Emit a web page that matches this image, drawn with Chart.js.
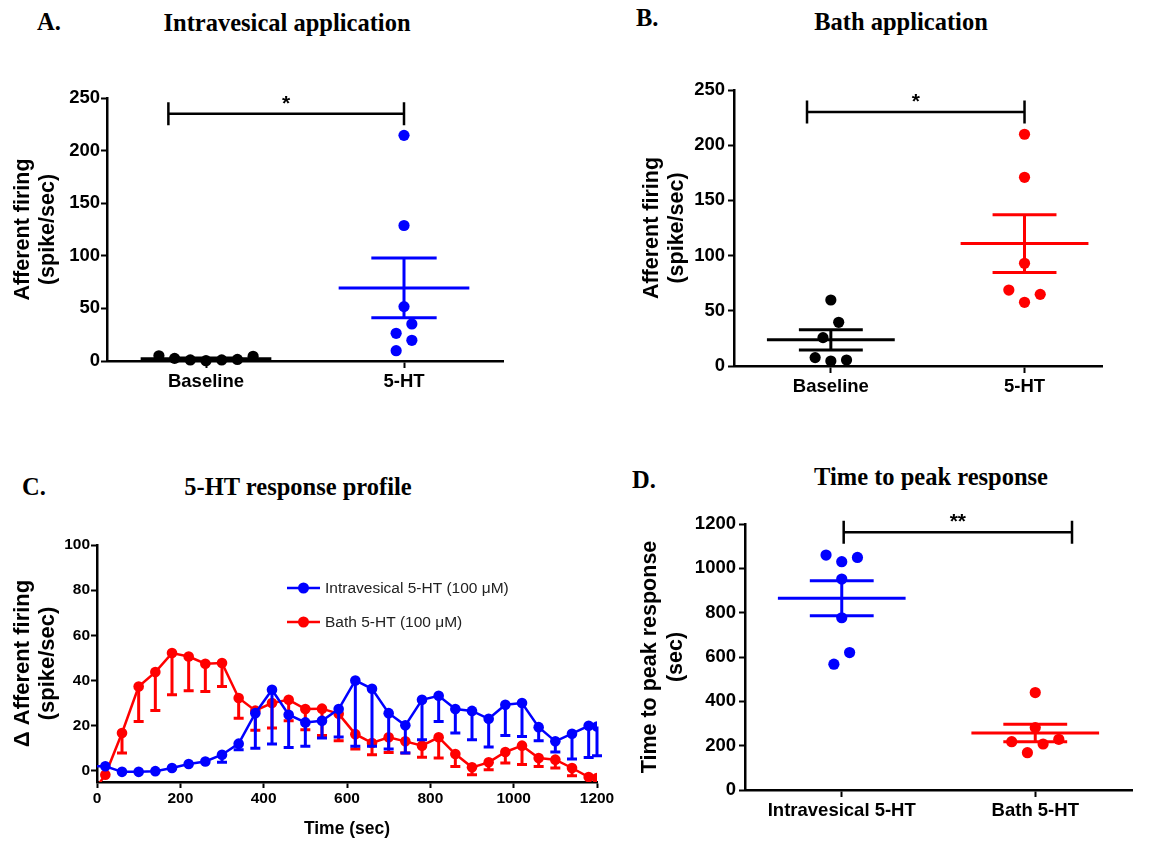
<!DOCTYPE html>
<html>
<head>
<meta charset="utf-8">
<script src="https://cdn.jsdelivr.net/npm/chart.js@4.4.3/dist/chart.umd.min.js"></script>
<style>
  html, body { margin: 0; padding: 0; background: #fff; }
  body { width: 1161px; height: 841px; position: relative; overflow: hidden; }
  canvas { position: absolute; }
  .t { position: absolute; font-family: 'Liberation Serif', 'Times New Roman', serif; font-weight: bold;
       font-size: 24.5px; line-height: 1; white-space: nowrap; color: #000; }
  .c { transform: translateX(-50%); }
</style>
</head>
<body>
<div class="t" style="left:37px;top:10px">A.</div>
<div class="t c" style="left:287px;top:11px">Intravesical application</div>
<div class="t" style="left:636px;top:6px">B.</div>
<div class="t c" style="left:901px;top:10px">Bath application</div>
<div class="t" style="left:22px;top:475px">C.</div>
<div class="t c" style="left:298px;top:475px">5-HT response profile</div>
<div class="t" style="left:632px;top:468px">D.</div>
<div class="t c" style="left:931px;top:465px">Time to peak response</div>

<canvas id="chartA" width="560" height="380" style="left:0;top:40px"></canvas>
<canvas id="chartB" width="561" height="380" style="left:600px;top:40px"></canvas>
<canvas id="chartC" width="620" height="321" style="left:0;top:520px"></canvas>
<canvas id="chartD" width="541" height="361" style="left:620px;top:480px"></canvas>

<script>
// ---- data ----
// A. intravesical application (spike/sec)
const groupsA = ['Baseline', '5-HT'];
const baselineA = [5, 2.5, 1, 0.3, 1, 1.5, 4.5];
const intravesA = [214.5, 128.8, 51.7, 35.2, 26.3, 19.7, 9.8];
const ticksA = [0, 50, 100, 150, 200, 250];

// B. bath application (spike/sec)
const groupsB = ['Baseline', '5-HT'];
const baselineB = [59.8, 39.6, 25.7, 7.6, 4.5, 5.4];
const bathB = [209.9, 170.9, 93, 68.8, 64.9, 57.7];
const ticksB = [0, 50, 100, 150, 200, 250];

// C. response profile, mean and SEM (error bars drawn downward)
const timeC = [0, 20, 60, 100, 140, 180, 220, 260, 300, 340, 380, 420, 460, 500, 540, 580,
  620, 660, 700, 740, 780, 820, 860, 900, 940, 980, 1020, 1060, 1100, 1140, 1180, 1200];
const intravesMeanC = [2, 2, -0.5, -0.5, -0.2, 1.2, 3, 4.1, 7.1, 12, 25.5, 35.9, 24.8, 21.4, 22.1, 27.3,
  40, 36.3, 25.5, 20.1, 31.4, 33.2, 27.3, 26.5, 23, 29.2, 30, 19.3, 13, 16.4, 19.9, 19.6];
const intravesSemC = [0, 0, 0, 0, 0, 0, 0, 0, 3.4, 2.7, 15.5, 24.1, 14.5, 10.6, 7.6, 12.4,
  29.2, 25.5, 15.9, 12.3, 17.7, 11.4, 10.6, 12.8, 12.5, 13.6, 14.8, 6, 4.7, 11.2, 14, 13];
const bathMeanC = [-7, -1.8, 16.7, 37.3, 43.7, 52.1, 50.6, 47.4, 47.7, 32.2, 26.6, 30, 31.4, 27.3, 27.5, 25.2,
  16.2, 12.3, 14.8, 13, 11.1, 14.8, 7.4, 1.5, 3.7, 8.3, 11.1, 5.6, 4.9, 1.2, -2.8, -3.2];
const bathSemC = [0, 0, 8.9, 15.5, 17, 18.4, 15.2, 12.3, 10.4, 9, 8.7, 11.1, 9.3, 9.1, 11.9, 11.9,
  6.6, 5.2, 6.7, 5.2, 5.1, 9.2, 5.5, 3.3, 3.3, 4.9, 8.4, 3.7, 3.7, 3.4, 0, 0];
const seriesC = ['Intravesical 5-HT (100 \u03bcM)', 'Bath 5-HT (100 \u03bcM)'];
const xTicksC = [0, 200, 400, 600, 800, 1000, 1200];
const yTicksC = [0, 20, 40, 60, 80, 100];

// D. time to peak response (sec)
const groupsD = ['Intravesical 5-HT', 'Bath 5-HT'];
const intravesD = [1049, 1030, 1060, 951.5, 777, 620, 567.6];
const bathD = [439.6, 281.5, 218, 207.6, 228.8, 168.4];
const ticksD = [0, 200, 400, 600, 800, 1000, 1200];

const BLUE = '#0000ff';
const RED = '#ff0000';
const BLACK = '#000000';
const SANS = "'Liberation Sans', Arial, sans-serif";

Chart.defaults.color = BLACK;
Chart.defaults.font.family = SANS;

// ---- plugins ----
// column scatter: points close in value share a row and are spread sideways
function slotOrder(n) {
  const out = [];
  if (n % 2) {
    out.push(0);
    for (let s = 1; out.length < n; s++) { out.push(s); if (out.length < n) out.push(-s); }
  } else {
    for (let s = 0.5; out.length < n; s++) { out.push(-s); out.push(s); }
  }
  return out;
}

const swarmPlugin = {
  id: 'swarm',
  afterDatasetsUpdate(chart, args, opts) {
    const step = opts.step || 15.7;
    const band = opts.band || 16;
    chart.data.datasets.forEach((ds, i) => {
      const pts = chart.getDatasetMeta(i).data.slice().sort((a, b) => b.y - a.y);
      let k = 0;
      while (k < pts.length) {
        let j = k + 1;
        while (j < pts.length && pts[k].y - pts[j].y < band) j++;
        const order = slotOrder(j - k);
        for (let m = k; m < j; m++) pts[m].x += order[m - k] * step;
        k = j;
      }
    });
  }
};

// mean line with SEM bars, computed from each group's values
const meanSemPlugin = {
  id: 'meanSem',
  beforeDatasetsDraw(chart) {
    const { ctx, scales: { x, y } } = chart;
    chart.data.datasets.forEach((ds) => {
      const vals = ds.data.map((d) => d.y);
      const n = vals.length;
      const mean = vals.reduce((a, b) => a + b, 0) / n;
      const sd = Math.sqrt(vals.reduce((a, b) => a + (b - mean) ** 2, 0) / (n - 1));
      const sem = sd / Math.sqrt(n);
      const cx = ds.data[0].x;
      const seg = (x1, y1, x2, y2) => {
        ctx.beginPath();
        ctx.moveTo(x.getPixelForValue(x1), y.getPixelForValue(y1));
        ctx.lineTo(x.getPixelForValue(x2), y.getPixelForValue(y2));
        ctx.stroke();
      };
      ctx.save();
      ctx.strokeStyle = ds.backgroundColor;
      ctx.lineWidth = 3;
      seg(cx - 0.33, mean, cx + 0.33, mean);
      seg(cx - 0.165, mean + sem, cx + 0.165, mean + sem);
      seg(cx - 0.165, mean - sem, cx + 0.165, mean - sem);
      seg(cx, mean - sem, cx, mean + sem);
      ctx.restore();
    });
  }
};

// significance bracket
const bracketPlugin = {
  id: 'bracket',
  afterDraw(chart, args, o) {
    if (!o || !o.label) return;
    const { ctx, scales: { x, y } } = chart;
    const x1 = x.getPixelForValue(o.from);
    const x2 = x.getPixelForValue(o.to);
    const yy = y.getPixelForValue(o.at);
    ctx.save();
    ctx.strokeStyle = BLACK;
    ctx.lineWidth = 2.5;
    ctx.beginPath();
    ctx.moveTo(x1, yy); ctx.lineTo(x2, yy);
    ctx.moveTo(x1, yy - 11.5); ctx.lineTo(x1, yy + 11.5);
    ctx.moveTo(x2, yy - 11.5); ctx.lineTo(x2, yy + 11.5);
    ctx.stroke();
    ctx.fillStyle = BLACK;
    ctx.font = 'bold 21px ' + SANS;
    ctx.textAlign = 'center';
    ctx.textBaseline = 'alphabetic';
    ctx.fillText(o.label, (x1 + x2) / 2, yy - 4);
    ctx.restore();
  }
};

// downward SEM error bars for the time course
const errorBarPlugin = {
  id: 'errorBars',
  afterDatasetDraw(chart, args) {
    const ds = chart.data.datasets[args.index];
    if (!ds.sem) return;
    const { ctx, scales: { y } } = chart;
    ctx.save();
    ctx.strokeStyle = ds.borderColor;
    ctx.lineWidth = 3;
    args.meta.data.forEach((pt, i) => {
      const s = ds.sem[i];
      if (!s) return;
      const yLow = y.getPixelForValue(ds.data[i].y - s);
      ctx.beginPath();
      ctx.moveTo(pt.x, pt.y); ctx.lineTo(pt.x, yLow);
      ctx.moveTo(pt.x - 5, yLow); ctx.lineTo(pt.x + 5, yLow);
      ctx.stroke();
    });
    ctx.restore();
  }
};

// GraphPad-style legend: line with symbol, then label
const lineLegendPlugin = {
  id: 'lineLegend',
  afterDraw(chart, args, o) {
    const { ctx } = chart;
    ctx.save();
    ctx.font = '15.5px ' + SANS;
    ctx.textBaseline = 'middle';
    chart.data.datasets.forEach((ds, i) => {
      const yy = o.top + i * o.gap;
      ctx.strokeStyle = ds.borderColor;
      ctx.lineWidth = 2.5;
      ctx.beginPath();
      ctx.moveTo(o.left, yy); ctx.lineTo(o.left + 33, yy);
      ctx.stroke();
      ctx.fillStyle = ds.backgroundColor;
      ctx.beginPath();
      ctx.arc(o.left + 16.5, yy, 5.5, 0, Math.PI * 2);
      ctx.fill();
      ctx.fillStyle = '#222';
      ctx.fillText(ds.label, o.left + 38, yy + 1);
    });
    ctx.restore();
  }
};

// ---- shared scale helpers ----
function tickFont(size) { return { family: SANS, size: size, weight: 'bold' }; }

function plainNumber(v) { return String(v); }

function axisGrid() {
  return { drawOnChartArea: false, drawTicks: true, tickLength: 6, tickWidth: 2, color: BLACK };
}

function axisBorder() { return { display: true, color: BLACK, width: 2.5 }; }

function groupXScale(groups, max, height) {
  return {
    type: 'linear', min: 0.5, max: max,
    afterBuildTicks: (s) => { s.ticks = groups.map((g, i) => ({ value: i + 1 })); },
    afterFit: (s) => { s.height = height; },
    ticks: { font: tickFont(18.5), padding: 3, callback: (v) => groups[v - 1] },
    grid: Object.assign(axisGrid(), { tickLength: 7 }),
    border: axisBorder()
  };
}

function valueYScale(tickList, width, titleText, titleTop, lineHeight, pad) {
  return {
    min: tickList[0], max: tickList[tickList.length - 1],
    afterBuildTicks: (s) => { s.ticks = tickList.map((v) => ({ value: v })); },
    afterFit: (s) => { s.width = width; },
    ticks: { font: tickFont(18.5), padding: pad, callback: plainNumber },
    grid: axisGrid(),
    border: axisBorder(),
    title: {
      display: true, text: titleText, color: BLACK,
      font: { family: SANS, size: 21.5, weight: 'bold', lineHeight: lineHeight },
      padding: { top: titleTop, bottom: 0 }
    }
  };
}

function groupDatasets(groupVals, colors) {
  return groupVals.map((vals, gi) => ({
    data: vals.map((v) => ({ x: gi + 1, y: v })),
    backgroundColor: colors[gi],
    borderColor: colors[gi],
    pointRadius: 5.6,
    borderWidth: 0
  }));
}

function scatterPanel(id, groups, groupVals, colors, cfg) {
  return new Chart(document.getElementById(id), {
    type: 'scatter',
    data: { datasets: groupDatasets(groupVals, colors) },
    options: {
      responsive: false,
      animation: false,
      events: [],
      clip: false,
      layout: { padding: cfg.padding },
      scales: {
        x: groupXScale(groups, cfg.xMax, cfg.xHeight),
        y: valueYScale(cfg.yTicks, cfg.yWidth, cfg.yTitle, cfg.titleTop, cfg.lineHeight, cfg.tickPad)
      },
      plugins: {
        legend: { display: false },
        tooltip: { enabled: false },
        swarm: { step: 15.7, band: 16 },
        bracket: cfg.bracket
      }
    },
    plugins: [swarmPlugin, meanSemPlugin, bracketPlugin]
  });
}

// ---- A ----
scatterPanel('chartA', groupsA, [baselineA, intravesA], [BLACK, BLUE], {
  padding: { left: 0, top: 58, right: 57, bottom: 0 },
  xMax: 2.5, xHeight: 59, yWidth: 107, yTicks: ticksA,
  yTitle: ['Afferent firing', '(spike/sec)'], titleTop: 10.5, lineHeight: '25px', tickPad: 1,
  bracket: { from: 0.81, to: 2.0, at: 235, label: '*' }
});

// ---- B ----
scatterPanel('chartB', groupsB, [baselineB, bathB], [BLACK, RED], {
  padding: { left: 0, top: 50, right: 59, bottom: 0 },
  xMax: 2.4, xHeight: 54, yWidth: 134, yTicks: ticksB,
  yTitle: ['Afferent firing', '(spike/sec)'], titleTop: 39.2, lineHeight: '25px', tickPad: 3,
  bracket: { from: 0.877, to: 2.0, at: 230, label: '*' }
});

// ---- D ----
scatterPanel('chartD', groupsD, [intravesD, bathD], [BLUE, RED], {
  padding: { left: 0, top: 44, right: 29, bottom: 0 },
  xMax: 2.5, xHeight: 51, yWidth: 125, yTicks: ticksD,
  yTitle: ['Time to peak response', '(sec)'], titleTop: 17, lineHeight: '26px', tickPad: 3,
  bracket: { from: 1.01, to: 2.19, at: 1163, label: '**' }
});

// ---- C ----
function seriesC_dataset(label, means, sems, color) {
  return {
    label: label,
    data: timeC.map((t, i) => ({ x: t, y: means[i] })),
    sem: sems,
    borderColor: color,
    backgroundColor: color,
    borderWidth: 2.5,
    tension: 0,
    // no symbol where the series starts on the y axis
    pointRadius: (c) => (c.raw && c.raw.x === 0 ? 0 : 5.3),
    pointBorderWidth: 0
  };
}

new Chart(document.getElementById('chartC'), {
  type: 'line',
  data: {
    datasets: [
      seriesC_dataset(seriesC[0], intravesMeanC, intravesSemC, BLUE),
      seriesC_dataset(seriesC[1], bathMeanC, bathSemC, RED)
    ]
  },
  options: {
    responsive: false,
    animation: false,
    events: [],
    layout: { padding: { left: 0, top: 25, right: 23, bottom: 0 } },
    scales: {
      x: {
        type: 'linear', min: 0, max: 1200,
        afterBuildTicks: (s) => { s.ticks = xTicksC.map((v) => ({ value: v })); },
        afterFit: (s) => { s.height = 59; },
        ticks: { font: tickFont(15.5), padding: 1, callback: plainNumber },
        grid: axisGrid(),
        border: axisBorder(),
        title: {
          display: true, text: 'Time (sec)', color: BLACK,
          font: { family: SANS, size: 17.5, weight: 'bold', lineHeight: '20px' },
          padding: { top: 0, bottom: 2 }
        }
      },
      y: {
        min: -5, max: 100,
        afterBuildTicks: (s) => { s.ticks = yTicksC.map((v) => ({ value: v })); },
        afterFit: (s) => { s.width = 97; },
        ticks: { font: tickFont(15.5), padding: 1, callback: plainNumber },
        grid: axisGrid(),
        border: axisBorder(),
        title: {
          display: true, text: ['\u0394 Afferent firing', '(spike/sec)'], color: BLACK,
          font: { family: SANS, size: 22, weight: 'bold', lineHeight: '25px' },
          padding: { top: 10.2, bottom: 0 }
        }
      }
    },
    plugins: {
      legend: { display: false },
      tooltip: { enabled: false },
      lineLegend: { left: 287, top: 68, gap: 34 }
    }
  },
  plugins: [errorBarPlugin, lineLegendPlugin]
});
</script>
</body>
</html>
